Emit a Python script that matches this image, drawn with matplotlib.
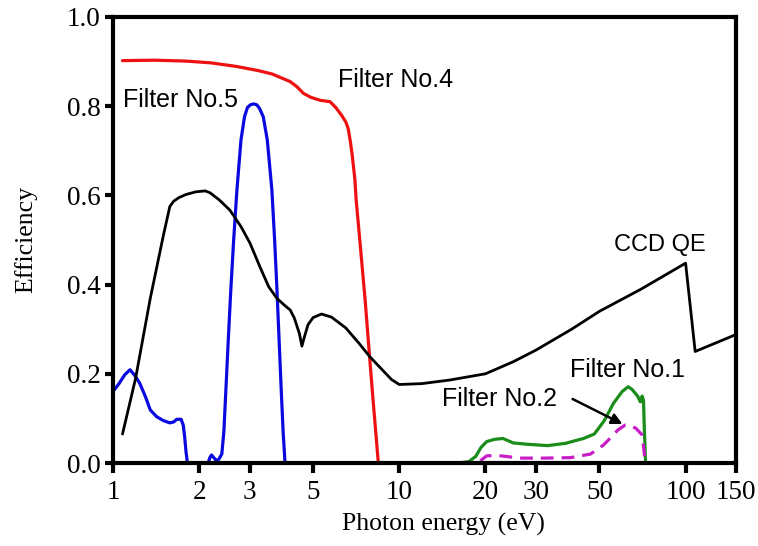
import matplotlib
matplotlib.use('Agg')
import matplotlib.pyplot as plt
from matplotlib.ticker import FixedLocator, NullLocator

# photon energy (eV) / efficiency
f4_e = [1.08, 1.4, 1.8, 2.2, 2.7, 3.2, 3.6, 4.16, 4.4, 4.62, 4.9, 5.3, 5.73, 6.0, 6.28, 6.5, 6.63, 6.75, 6.85, 7.0, 7.07, 7.35, 7.6, 7.85, 8.1, 8.3, 8.45]
f4_v = [0.902, 0.903, 0.901, 0.897, 0.889, 0.88, 0.872, 0.855, 0.843, 0.829, 0.82, 0.813, 0.81, 0.797, 0.78, 0.765, 0.75, 0.72, 0.69, 0.635, 0.59, 0.47, 0.365, 0.25, 0.141, 0.06, 0.0]

f5_e = [1.0, 1.05, 1.1, 1.147, 1.19, 1.24, 1.3, 1.35, 1.42, 1.5, 1.58, 1.63, 1.67, 1.73, 1.76, 1.78, 1.8, 1.82,
        2.15, 2.18, 2.21, 2.25, 2.29, 2.34, 2.40, 2.44, 2.48, 2.53, 2.58, 2.64, 2.71, 2.8, 2.88, 2.95, 3.02, 3.1,
        3.18, 3.25, 3.35, 3.46, 3.59, 3.67, 3.74, 3.87, 3.93, 3.99]
f5_v = [0.16, 0.178, 0.198, 0.209, 0.197, 0.179, 0.148, 0.119, 0.104, 0.095, 0.09, 0.092, 0.098, 0.098, 0.085, 0.059, 0.025, 0.0,
        0.0, 0.012, 0.018, 0.012, 0.006, 0.008, 0.02, 0.07, 0.164, 0.28, 0.388, 0.5, 0.612, 0.724, 0.776, 0.797, 0.803, 0.805,
        0.803, 0.795, 0.776, 0.724, 0.612, 0.5, 0.388, 0.164, 0.07, 0.0]

ccd_e = [1.08, 1.2, 1.35, 1.5, 1.58, 1.63, 1.7, 1.8, 1.95, 2.1, 2.18, 2.35, 2.56, 2.8, 3.01, 3.26, 3.5, 3.74, 4.0, 4.16,
         4.3, 4.48, 4.57, 4.65, 4.8, 5.0, 5.35, 5.8, 6.5, 7.2, 7.9, 8.6, 9.4, 10, 12, 15, 20, 25, 30, 40, 50, 70, 100, 108, 150]
ccd_v = [0.065, 0.19, 0.369, 0.51, 0.575, 0.587, 0.595, 0.602, 0.608, 0.61, 0.606, 0.59, 0.567, 0.53, 0.493, 0.44, 0.395, 0.369, 0.352, 0.343,
         0.325, 0.29, 0.262, 0.28, 0.31, 0.326, 0.334, 0.327, 0.303, 0.27, 0.238, 0.213, 0.187, 0.176, 0.178, 0.186, 0.20, 0.227, 0.253, 0.30, 0.34, 0.39, 0.448, 0.25, 0.288]

f1_e = [14.5, 16, 17.5, 18.5, 19.3, 20.2, 21.5, 23, 24, 25, 28, 33, 38, 44, 48, 52, 56, 60, 63, 65, 68, 69.5, 70.5, 71.3, 71.8, 72.5]
f1_v = [0.0, 0.0, 0.003, 0.015, 0.035, 0.048, 0.053, 0.055, 0.05, 0.045, 0.042, 0.039, 0.044, 0.055, 0.065, 0.095, 0.134, 0.16, 0.171, 0.165, 0.15, 0.137, 0.15, 0.14, 0.07, 0.0]

f2_e = [19.2, 20.2, 22, 26.4, 32, 39.6, 46.5, 51.6, 55, 58, 61.5, 64, 67, 70.5, 71.5, 72.2]
f2_v = [0.005, 0.016, 0.017, 0.011, 0.011, 0.012, 0.02, 0.04, 0.058, 0.074, 0.085, 0.084, 0.078, 0.063, 0.03, 0.003]

xticks = [1, 2, 3, 5, 10, 20, 30, 50, 100, 150]
yticks = [0.0, 0.2, 0.4, 0.6, 0.8, 1.0]

fig = plt.figure(figsize=(7.58, 5.46), dpi=100)
ax = fig.add_axes([0.149, 0.152, 0.822, 0.817])

lk = dict(solid_joinstyle='round', solid_capstyle='round')
ax.plot(f4_e, f4_v, color='#ee1111', lw=2.3, **lk)
ax.plot(f5_e, f5_v, color='#0a0ae0', lw=2.3, **lk)
ax.plot(ccd_e, ccd_v, color='black', lw=2.0, **lk)
ax.plot(f1_e, f1_v, color='#1a8c1a', lw=2.3, **lk)
ax.plot(f2_e, f2_v, color='#c81ec8', lw=2.3, ls=(0, (4, 2.5)))

ax.set_xscale('log')
ax.set_xlim(1, 150)
ax.set_ylim(0, 1.0)
ax.xaxis.set_major_locator(FixedLocator(xticks))
ax.xaxis.set_minor_locator(NullLocator())
ax.set_xticklabels([str(t) for t in xticks])
ax.set_yticks(yticks)
ax.set_yticklabels(['%.1f' % t for t in yticks])

for s in ax.spines.values():
    s.set_linewidth(3.0)
ax.tick_params(axis='x', direction='out', length=7, width=3, labelsize=19.5, pad=5)
ax.tick_params(axis='y', direction='out', length=6, width=3, labelsize=19.5, pad=3)
for lab in ax.get_xticklabels() + ax.get_yticklabels():
    lab.set_fontfamily('Liberation Serif')

ax.set_xlabel('Photon energy (eV)', fontsize=18.5, family='Liberation Serif')
ax.xaxis.set_label_coords(0.53, -0.112)
ax.set_ylabel('Efficiency', fontsize=18.5, family='Liberation Serif', labelpad=21)

tfont = dict(fontsize=18, family='Liberation Sans', va='center')
ax.text(1.08, 0.814, 'Filter No.5', ha='left', **tfont)
ax.text(6.1, 0.859, 'Filter No.4', ha='left', **tfont)
ax.text(56.3, 0.489, 'CCD QE', ha='left', fontsize=17, family='Liberation Sans', va='center')
ax.text(39.6, 0.2085, 'Filter No.1', ha='left', **tfont)
ax.text(14.1, 0.1435, 'Filter No.2', ha='left', **tfont)
ax.annotate('', xy=(60.2, 0.0874), xytext=(40.3, 0.1435),
            arrowprops=dict(arrowstyle='-|>', color='black', lw=1.8,
                            mutation_scale=16, shrinkA=0, shrinkB=0))

fig.savefig('out.png', dpi=100)
